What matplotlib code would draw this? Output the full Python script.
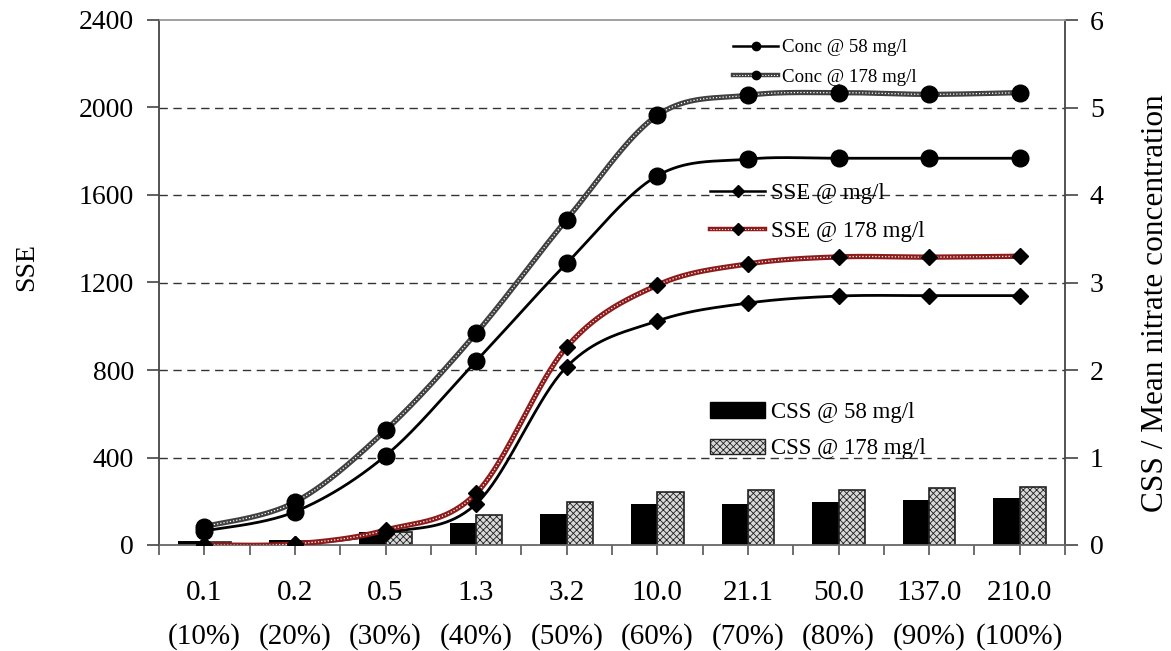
import numpy as np
import matplotlib
matplotlib.use("Agg")
import matplotlib.pyplot as plt
from matplotlib.lines import Line2D
from matplotlib.patches import Patch

plt.rcParams['font.family'] = ['Liberation Serif', 'DejaVu Serif']
plt.rcParams['hatch.linewidth'] = 0.6

# ---------------- data ----------------
cat_values = ["0.1", "0.2", "0.5", "1.3", "3.2", "10.0", "21.1", "50.0", "137.0", "210.0"]
cat_pct = ["(10%)", "(20%)", "(30%)", "(40%)", "(50%)", "(60%)", "(70%)", "(80%)", "(90%)", "(100%)"]

# right axis (CSS / mean nitrate concentration)
conc_58 = [0.16, 0.38, 1.02, 2.10, 3.22, 4.22, 4.41, 4.42, 4.42, 4.42]
conc_178 = [0.21, 0.49, 1.31, 2.42, 3.72, 4.91, 5.14, 5.17, 5.15, 5.17]
css_58 = [0.05, 0.06, 0.15, 0.25, 0.36, 0.47, 0.47, 0.495, 0.51, 0.54]
css_178 = [0.03, 0.05, 0.15, 0.34, 0.49, 0.61, 0.63, 0.63, 0.65, 0.66]

# left axis (SSE)
sse_58 = [0, 5, 55, 188, 815, 1024, 1106, 1138, 1140, 1140]
sse_178 = [0, 5, 68, 236, 905, 1188, 1285, 1317, 1316, 1320]

left_ticks = [0, 400, 800, 1200, 1600, 2000, 2400]
right_ticks = [0, 1, 2, 3, 4, 5, 6]


def smooth(x, y, n=40):
    P = np.column_stack([np.asarray(x, float), np.asarray(y, float)])
    P = np.vstack([P[0], P, P[-1]])
    out = []
    t = np.linspace(0, 1, n)[:, None]
    for i in range(1, len(P) - 2):
        p0, p1, p2, p3 = P[i - 1], P[i], P[i + 1], P[i + 2]
        c1 = p1 + (p2 - p0) / 6.0
        c2 = p2 - (p3 - p1) / 6.0
        b = (1 - t) ** 3 * p1 + 3 * (1 - t) ** 2 * t * c1 + 3 * (1 - t) * t ** 2 * c2 + t ** 3 * p2
        out.append(b if i == 1 else b[1:])
    s = np.vstack(out)
    return s[:, 0], s[:, 1]


W, H = 1171, 651
fig = plt.figure(figsize=(W / 100, H / 100), dpi=100)
L, R, T, B = 159, 1065, 20, 545
ax = fig.add_axes([L / W, 1 - B / H, (R - L) / W, (B - T) / H])
ax2 = ax.twinx()

x = np.arange(len(cat_values))

# main axis: right scale
ax.set_xlim(-0.5, len(cat_values) - 0.5)
ax.set_ylim(right_ticks[0], right_ticks[-1])
ax.yaxis.tick_right()
ax.yaxis.set_label_position('right')
ax.set_yticks(right_ticks)
ax.set_yticklabels([str(v) for v in right_ticks])

ax2.set_ylim(left_ticks[0], left_ticks[-1])
ax2.yaxis.tick_left()
ax2.yaxis.set_label_position('left')
ax2.set_yticks(left_ticks)
ax2.set_yticklabels([str(v) for v in left_ticks])

for v in right_ticks[1:-1]:
    ax.axhline(v, color='#333333', lw=1.0, ls=(0, (6, 4)), zorder=0.5)

# bars
bw = 0.29
ax.bar(x - bw / 2, css_58, bw, color='black', zorder=2)
ax.bar(x + bw / 2, css_178, bw, facecolor='#d8d8d8', edgecolor='#222222', hatch='xxxxx', lw=1.2, zorder=2)

# Conc lines (right scale)
sx, sy = smooth(x, conc_58)
ax.plot(sx, sy, color='black', lw=2.0, zorder=3)
ax.plot(x, conc_58, ls='none', marker='o', ms=12, color='black', zorder=4)

sx, sy = smooth(x, conc_178)
ax.plot(sx, sy, color='#404040', lw=3.8, zorder=3)
ax.plot(sx, sy, color='white', lw=0.9, ls=(0, (1, 1.6)), zorder=3.1)
ax.plot(x, conc_178, ls='none', marker='o', ms=12, color='black', zorder=4)

# SSE lines (left scale)
sx, sy = smooth(x, sse_58)
ax2.plot(sx, sy, color='black', lw=2.0, zorder=3)
ax2.plot(x, sse_58, ls='none', marker='D', ms=8.5, color='black', zorder=4)

sx, sy = smooth(x, sse_178)
ax2.plot(sx, sy, color='#8e1b1b', lw=3.8, zorder=3)
ax2.plot(sx, sy, color='white', lw=0.9, ls=(0, (1, 1.6)), zorder=3.1)
ax2.plot(x, sse_178, ls='none', marker='D', ms=8.5, color='black', zorder=4)

# x ticks
ax.set_xticks(x)
ax.set_xticklabels([f"{a}\n{b}" for a, b in zip(cat_values, cat_pct)], fontsize=21, linespacing=1.8)
ax.set_xticks(np.arange(-0.5, len(cat_values), 1.0), minor=True)
ax.tick_params(axis='x', which='both', direction='out', length=7, color='#555555', width=1.2)
ax.tick_params(axis='x', which='major', pad=18.5)

ax.tick_params(axis='y', direction='out', length=9, width=1.2, color='#444444', labelsize=20, pad=9)
ax2.tick_params(axis='y', direction='out', length=9, width=1.2, color='#444444', labelsize=20, pad=9)

for s in ax2.spines.values():
    s.set_visible(False)
ax.spines['top'].set_color('#999999')
ax.spines['bottom'].set_color('#666666')
ax.spines['left'].set_color('#444444')
ax.spines['right'].set_color('#444444')
for s in ax.spines.values():
    s.set_linewidth(1.3)

ax2.set_ylabel("SSE", fontsize=20, va='center', ha='center')
ax2.yaxis.set_label_coords(-0.146, 0.53)
ax.set_ylabel("CSS / Mean nitrate concentration", fontsize=22.5, rotation=90, va='center', ha='center')
ax.yaxis.set_label_coords(1.1, 0.46)

# legends
h_c58 = Line2D([], [], color='black', lw=1.8, marker='o', ms=6)
h_c178a = Line2D([], [], color='#404040', lw=3.2)
h_c178b = Line2D([], [], color='white', lw=0.8, ls=(0, (1, 1.6)))
h_c178c = Line2D([], [], ls='none', color='black', marker='o', ms=6)
fig.legend([h_c58, (h_c178a, h_c178b, h_c178c)], ["Conc @ 58 mg/l", "Conc @ 178 mg/l"],
           loc='upper left', bbox_to_anchor=(733 / W, 1 - 39 / H), frameon=False,
           fontsize=13.6, handlelength=2.4, handletextpad=0.2, labelspacing=0.66,
           borderpad=0, borderaxespad=0)

h_s58 = Line2D([], [], color='black', lw=1.8, marker='D', ms=6.5)
h_s178a = Line2D([], [], color='#8e1b1b', lw=3.2)
h_s178b = Line2D([], [], color='white', lw=0.8, ls=(0, (1, 1.6)))
h_s178c = Line2D([], [], ls='none', color='black', marker='D', ms=6.5)
fig.legend([h_s58, (h_s178a, h_s178b, h_s178c)], ["SSE @ mg/l", "SSE @ 178 mg/l"],
           loc='upper left', bbox_to_anchor=(710 / W, 1 - 183 / H), frameon=False,
           fontsize=16.5, handlelength=2.4, handletextpad=0.25, labelspacing=0.76,
           borderpad=0, borderaxespad=0)

p58 = Patch(facecolor='black', edgecolor='black')
p178 = Patch(facecolor='#d8d8d8', edgecolor='#222222', hatch='xxxxx', lw=1.0)
fig.legend([p58, p178], ["CSS @ 58 mg/l", "CSS @ 178 mg/l"],
           loc='upper left', bbox_to_anchor=(710 / W, 1 - 402 / H), frameon=False,
           fontsize=16.5, handlelength=2.4, handleheight=0.65, handletextpad=0.25, labelspacing=0.67,
           borderpad=0, borderaxespad=0)

fig.savefig("out.png", dpi=100)
